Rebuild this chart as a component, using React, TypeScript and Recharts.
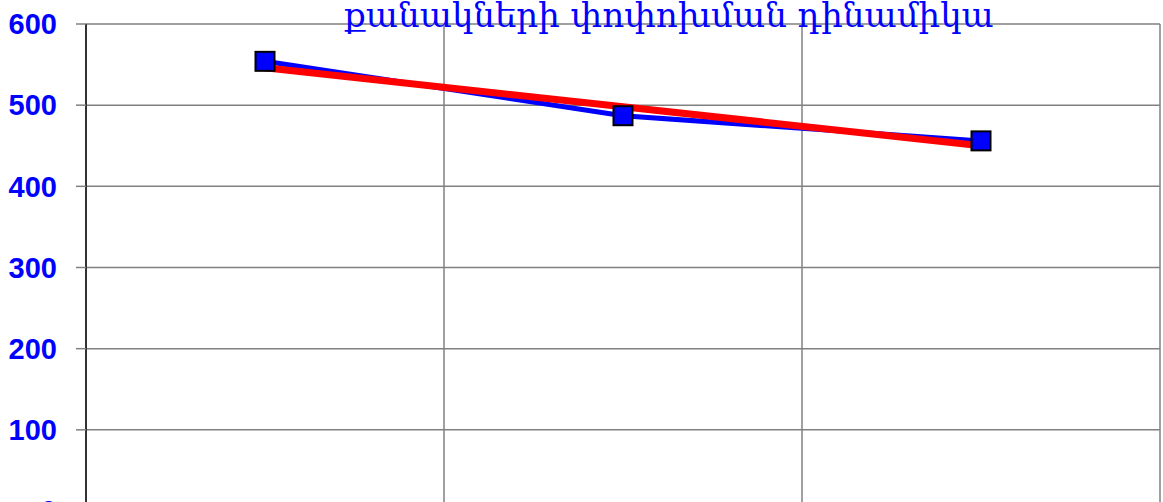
import React from 'react';
import { LineChart, Line, XAxis, YAxis, CartesianGrid } from 'recharts';

const title = 'քանակների փոփոխման դինամիկա';
const periods = [1, 2, 3];
const quantities = [554, 487, 456];
const trend = [546, 498, 450];
const yTicks = [0, 100, 200, 300, 400, 500, 600];
const xBounds = [0, 1, 2, 3];

const data = periods.map((p, i) => ({
  x: p - 0.5,
  quantity: quantities[i],
  trend: trend[i],
}));

const SquareDot = (props: any) => {
  const { cx, cy, index } = props;
  if (cx == null || cy == null) return <g key={index} />;
  return (
    <rect
      key={index}
      x={cx - 9.5}
      y={cy - 9.5}
      width={19}
      height={19}
      fill="#0000ff"
      stroke="#000000"
      strokeWidth={2}
    />
  );
};

export default function App() {
  return (
    <div
      style={{
        position: 'absolute',
        left: 0,
        top: 0,
        width: 1163,
        height: 502,
        overflow: 'hidden',
        background: '#fff',
      }}
    >
      <LineChart
        width={1163}
        height={560}
        data={data}
        margin={{ top: 24, right: 3, left: 0, bottom: 49 }}
      >
        <CartesianGrid stroke="#808080" strokeWidth={1.5} />
        <XAxis
          dataKey="x"
          type="number"
          domain={[0, 3]}
          ticks={xBounds}
          hide
        />
        <YAxis
          domain={[0, 600]}
          ticks={yTicks}
          width={86}
          tickSize={10}
          tickMargin={19}
          axisLine={{ stroke: '#333333', strokeWidth: 2 }}
          tickLine={{ stroke: '#808080', strokeWidth: 1.5 }}
          tick={{
            fill: '#0000ff',
            fontSize: 29,
            fontWeight: 'bold',
            fontFamily: '"Liberation Sans", Arial, sans-serif',
          }}
        />
        <Line
          dataKey="quantity"
          stroke="#0000ff"
          strokeWidth={5}
          dot={SquareDot}
          activeDot={false}
          isAnimationActive={false}
        />
        <Line
          dataKey="trend"
          stroke="#ff0000"
          strokeWidth={7}
          strokeLinecap="round"
          dot={false}
          activeDot={false}
          isAnimationActive={false}
        />
      </LineChart>
      <div
        style={{
          position: 'absolute',
          left: 669,
          top: 0,
          transform: 'translateX(-50%)',
          whiteSpace: 'nowrap',
          color: '#0000ff',
          fontSize: 34,
          lineHeight: '30px',
          fontFamily: '"DejaVu Serif", serif',
        }}
      >
        {title}
      </div>
    </div>
  );
}
